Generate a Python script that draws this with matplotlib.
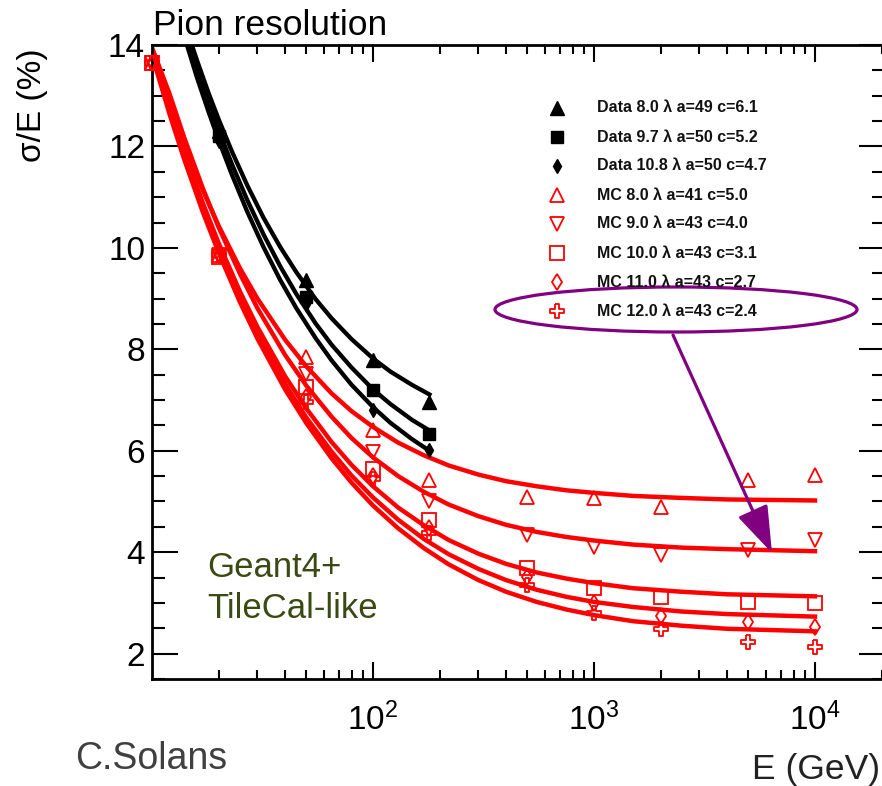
import numpy as np
import matplotlib
matplotlib.use('Agg')
import matplotlib.pyplot as plt
from matplotlib.ticker import FixedLocator, FixedFormatter, LogLocator, MultipleLocator, NullFormatter
from matplotlib.patches import Ellipse, FancyArrowPatch

plt.rcParams['font.family'] = ['Liberation Sans', 'DejaVu Sans']
plt.rcParams['mathtext.default'] = 'regular'

# measured points (GeV, sigma/E in %)
E_data = [20, 50, 100, 180]
data_80 = [12.3, 9.37, 7.79, 6.97]
data_97 = [12.2, 9.03, 7.2, 6.33]
data_108 = [12.1, 8.9, 6.81, 6.02]

E_mc = [10, 20, 50, 100, 180, 500, 1000, 2000, 5000, 10000]
mc_80 = [13.65, 9.85, 7.85, 6.41, 5.43, 5.09, 5.07, 4.90, 5.43, 5.53]
mc_90 = [13.65, 9.85, 7.52, 5.97, 5.0, 4.34, 4.11, 3.95, 4.05, 4.25]
mc_100 = [13.65, 9.82, 7.26, 5.65, 4.63, 3.69, 3.30, 3.12, 3.02, 3.0]
mc_110 = [13.65, 9.85, 7.06, 5.5, 4.48, 3.52, 3.0, 2.75, 2.63, 2.53]
mc_120 = [13.65, 9.85, 6.96, 5.45, 4.37, 3.36, 2.81, 2.49, 2.22, 2.14]

# fit curves
E_fit_data = [12, 14, 16, 18, 20, 23, 27, 32, 38, 45, 55, 65, 80, 100, 120, 150, 180]
fit_data_80 = [15.40, 14.45, 13.69, 13.06, 12.54, 11.90, 11.23, 10.59, 10.02, 9.52, 8.99, 8.61, 8.20, 7.82, 7.56, 7.30, 7.11]
fit_data_97 = [15.34, 14.34, 13.54, 12.88, 12.33, 11.65, 10.94, 10.26, 9.64, 9.09, 8.51, 8.09, 7.64, 7.21, 6.92, 6.61, 6.40]
fit_data_108 = [15.18, 14.17, 13.35, 12.69, 12.13, 11.44, 10.71, 10.01, 9.37, 8.81, 8.22, 7.78, 7.30, 6.86, 6.55, 6.23, 6.00]

E_fit_mc = [10, 12, 14, 17, 20, 25, 30, 40, 50, 65, 80, 100, 130, 170, 220, 300, 400, 550, 750, 1000, 1500, 2500, 4000, 10000]
fit_mc_80 = [13.85, 12.85, 12.05, 11.13, 10.44, 9.60, 9.00, 8.19, 7.66, 7.13, 6.78, 6.47, 6.16, 5.91, 5.71, 5.53, 5.40, 5.30, 5.22, 5.17, 5.11, 5.07, 5.04, 5.02]
fit_mc_90 = [13.95, 13.04, 12.17, 11.17, 10.41, 9.49, 8.81, 7.89, 7.28, 6.67, 6.25, 5.87, 5.50, 5.19, 4.94, 4.71, 4.54, 4.40, 4.30, 4.23, 4.15, 4.09, 4.06, 4.02]
fit_mc_100 = [13.90, 12.79, 11.90, 10.88, 10.10, 9.14, 8.44, 7.47, 6.83, 6.17, 5.72, 5.30, 4.88, 4.53, 4.24, 3.97, 3.77, 3.60, 3.48, 3.39, 3.29, 3.22, 3.17, 3.13]
fit_mc_110 = [13.85, 12.70, 11.81, 10.77, 9.99, 9.01, 8.30, 7.32, 6.65, 5.98, 5.51, 5.08, 4.64, 4.26, 3.96, 3.67, 3.45, 3.26, 3.12, 3.02, 2.92, 2.83, 2.78, 2.73]
fit_mc_120 = [13.80, 12.64, 11.74, 10.70, 9.91, 8.93, 8.21, 7.21, 6.54, 5.85, 5.37, 4.92, 4.47, 4.08, 3.76, 3.45, 3.22, 3.02, 2.87, 2.76, 2.64, 2.55, 2.49, 2.44]

labels = ['Data 8.0 \u03bb a=49 c=6.1', 'Data 9.7 \u03bb a=50 c=5.2', 'Data 10.8 \u03bb a=50 c=4.7',
          'MC 8.0 \u03bb a=41 c=5.0', 'MC 9.0 \u03bb a=43 c=4.0', 'MC 10.0 \u03bb a=43 c=3.1',
          'MC 11.0 \u03bb a=43 c=2.7', 'MC 12.0 \u03bb a=43 c=2.4']

W, H = 882, 786


def fig_xy(x, y):
    return x / W, 1 - y / H


open_cross = [(-0.33, 1), (0.33, 1), (0.33, 0.33), (1, 0.33), (1, -0.33), (0.33, -0.33),
              (0.33, -1), (-0.33, -1), (-0.33, -0.33), (-1, -0.33), (-1, 0.33), (-0.33, 0.33), (-0.33, 1)]

data_style = [dict(marker='^', ms=9.5), dict(marker='s', ms=8.5), dict(marker='d', ms=7.5)]
for s in data_style:
    s.update(mfc='black', mec='black', mew=1, ls='none')
mc_style = [dict(marker='^', ms=10.5), dict(marker='v', ms=10.5), dict(marker='s', ms=10),
            dict(marker='d', ms=8), dict(marker=open_cross, ms=10)]
for s in mc_style:
    s.update(mfc='none', mec='red', mew=1.3, ls='none')

fig = plt.figure(figsize=(W / 100, H / 100), dpi=100)
# right frame sits just past the picture edge, as in the original
ax = fig.add_axes([152 / W, 1 - 679 / H, 733 / W, 634 / H])

for fy in [fit_data_80, fit_data_97, fit_data_108]:
    ax.plot(E_fit_data, fy, color='black', lw=3.1, zorder=2)
for fy in [fit_mc_80, fit_mc_90, fit_mc_100, fit_mc_110, fit_mc_120]:
    ax.plot(E_fit_mc, fy, color='red', lw=3.2, zorder=2)

for y, st in zip([data_80, data_97, data_108], data_style):
    ax.plot(E_data, y, zorder=3, clip_on=False, **st)
for y, st in zip([mc_80, mc_90, mc_100, mc_110, mc_120], mc_style):
    ax.plot(E_mc, y, zorder=3, clip_on=False, **st)

ax.set_xscale('log')
ax.set_xlim(10, 10 ** (1 + 733 / 221))
ax.set_ylim(1.5, 14)
ax.xaxis.set_major_locator(FixedLocator([100, 1000, 10000]))
ax.xaxis.set_major_formatter(FixedFormatter(['$10^{2}$', '$10^{3}$', '$10^{4}$']))
ax.xaxis.set_minor_locator(LogLocator(base=10, subs=np.arange(2, 10), numticks=20))
ax.xaxis.set_minor_formatter(NullFormatter())
ax.yaxis.set_major_locator(MultipleLocator(2))
ax.yaxis.set_minor_locator(MultipleLocator(0.5))
ax.tick_params(which='both', direction='in', top=True, right=True, width=1.5)
ax.tick_params(axis='y', which='major', length=19, pad=5, labelsize=24)
ax.tick_params(axis='y', which='minor', length=9.5)
ax.tick_params(axis='x', which='major', length=12, pad=17, labelsize=24)
ax.tick_params(axis='x', which='minor', length=6.5)
for sp in ax.spines.values():
    sp.set_linewidth(2)

# legend drawn by hand, rows 29 px apart
styles = data_style + mc_style
for i, (lab, st) in enumerate(zip(labels, styles)):
    mx, my = fig_xy(557, 108 + 29 * i)
    fig.add_artist(plt.Line2D([mx], [my], transform=fig.transFigure, **st))
    tx, ty = fig_xy(597, 108 + 29 * i)
    fig.text(tx, ty, lab, fontsize=11.5, fontweight='bold', color='#111111', va='center', ha='left')

fig.add_artist(Ellipse(fig_xy(676, 309.5), 362 / W, 45 / H, transform=fig.transFigure,
                       fill=False, ec='#800080', lw=2.3))
fig.add_artist(FancyArrowPatch(fig_xy(673, 335), fig_xy(772, 553), transform=fig.transFigure,
                               arrowstyle='-|>,head_length=29,head_width=10', mutation_scale=1,
                               color='#800080', lw=2.3, shrinkA=0, shrinkB=0))

fig.text(*fig_xy(153, 35), 'Pion resolution', fontsize=25.5, va='baseline', ha='left')
fig.text(*fig_xy(33, 105), '\u03c3/E (%)', fontsize=24, rotation=90, va='center', ha='center')
fig.text(*fig_xy(880, 779), 'E (GeV)', fontsize=25.5, color='#222222', va='baseline', ha='right')
fig.text(*fig_xy(75, 769), 'C.Solans', fontsize=27, color='#404040', va='baseline', ha='left')
fig.text(*fig_xy(207, 577), 'Geant4+', fontsize=25, color='#3b4a14', va='baseline', ha='left')
fig.text(*fig_xy(207, 618), 'TileCal-like', fontsize=25, color='#3b4a14', va='baseline', ha='left')

fig.savefig('out.png', dpi=100)
